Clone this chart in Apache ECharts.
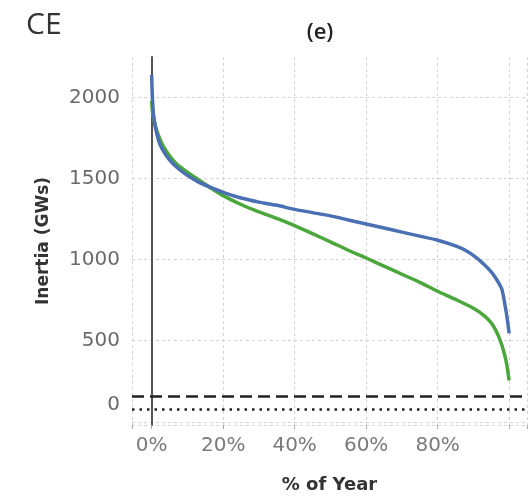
<!DOCTYPE html>
<html>
<head>
<meta charset="utf-8">
<script src="https://cdn.jsdelivr.net/npm/echarts@6/dist/echarts.min.js"></script>
<style>
html,body{margin:0;padding:0;background:#fff;}
#chart{width:530px;height:499px;}
</style>
</head>
<body>
<div id="chart"></div>
<script>
// % of year (x) for each curve
const blueX = [0, 0.2, 0.5, 1, 2, 3, 5, 7, 10, 13, 16, 20, 25, 30, 35, 40, 45, 50, 55, 60, 65, 70, 75, 80, 85, 88, 91, 93, 95, 96, 97, 98, 99, 99.5, 100];
const blueY = [2140, 2000, 1900, 1820, 1730, 1680, 1615, 1570, 1520, 1480, 1450, 1415, 1380, 1355, 1335, 1310, 1290, 1270, 1245, 1220, 1195, 1170, 1145, 1120, 1085, 1055, 1010, 970, 925, 895, 860, 815, 700, 630, 545];
const greenX = [0, 0.3, 1, 2, 3, 5, 7, 10, 13, 16, 20, 25, 30, 35, 40, 45, 50, 55, 60, 65, 70, 75, 80, 85, 90, 93, 95, 96, 97, 98, 99, 99.5, 100];
const greenY = [1980, 1900, 1830, 1760, 1710, 1640, 1590, 1540, 1495, 1450, 1395, 1340, 1295, 1255, 1210, 1160, 1110, 1058, 1010, 960, 910, 860, 805, 755, 700, 655, 610, 575, 530, 470, 390, 330, 255];
const dashedLevel = [160];
const dottedLevel = [80];
const yTickLabels = [0, 500, 1000, 1500, 2000];
const xTickLabels = [0, 20, 40, 60, 80];

const pair = (xs, ys) => xs.map((x, i) => [x, ys[i]]);
const chart = echarts.init(document.getElementById('chart'));
const font = "'Open Sans', 'Noto Sans', sans-serif";
const dv = "'DejaVu Sans', sans-serif";
const grid = '#d4d4d4';

chart.setOption({
  animation: false,
  title: [
    {text: 'CE', left: 21, top: 5, textStyle: {fontFamily: font, fontSize: 30, fontWeight: 'normal', color: '#333'}},
    {text: '(e)', left: 315, top: 17, textAlign: 'center', textStyle: {fontFamily: font, fontSize: 22, fontWeight: 600, color: '#222'}}
  ],
  grid: {left: 132, right: 0, top: 57, bottom: 74},
  xAxis: {
    type: 'value', min: -5.5, max: 105, splitNumber: 5,
    name: '% of Year', nameLocation: 'middle', nameGap: 51, nameMoveOverlap: false,
    nameTextStyle: {fontFamily: dv, fontSize: 18, fontWeight: 'bold', color: '#333'},
    axisLine: {show: false, onZero: false},
    axisTick: {show: true, length: 4, lineStyle: {color: '#aaa'}},
    axisLabel: {
      fontFamily: dv, fontSize: 20, color: '#7a7a7a', margin: 11,
      formatter: v => xTickLabels.includes(v) ? v + '%' : ''
    },
    splitLine: {show: true, lineStyle: {color: grid, type: [3, 3], width: 1}}
  },
  yAxis: {
    type: 'value', min: -20, max: 2250, splitNumber: 5,
    name: 'Inertia (GWs)', nameLocation: 'middle', nameGap: 80, nameMoveOverlap: false,
    nameTextStyle: {fontFamily: dv, fontSize: 17, fontWeight: 'bold', color: '#333'},
    axisLine: {show: true, onZero: true, lineStyle: {color: '#555', width: 2}},
    axisTick: {show: false},
    axisLabel: {
      fontFamily: dv, fontSize: 20, color: '#6a6a6a', margin: 12,
      formatter: v => v === 0 ? '{z|0}' : (yTickLabels.includes(v) ? String(v) : ''),
      rich: {z: {fontFamily: dv, fontSize: 20, color: '#6a6a6a', padding: [0, 0, 34, 0]}}
    },
    splitLine: {show: true, lineStyle: {color: [grid, grid, grid, grid, grid, grid, 'rgba(0,0,0,0)'], type: [3, 3], width: 1}}
  },
  series: [
    {
      type: 'line', data: pair(greenX, greenY), showSymbol: false, smooth: 0.3,
      lineStyle: {color: '#4ba73c', width: 3.5}, z: 3,
      markLine: {
        silent: true, symbol: 'none', label: {show: false},
        data: [
          ...dashedLevel.map(v => ({yAxis: v, lineStyle: {color: '#222', type: [12, 6], width: 2.5}})),
          ...dottedLevel.map(v => ({yAxis: v, lineStyle: {color: '#222', type: [2.5, 5], width: 2.5}}))
        ]
      }
    },
    {
      type: 'line', data: pair(blueX, blueY), showSymbol: false, smooth: 0.3,
      lineStyle: {color: '#4a70b3', width: 3.5}, z: 4
    }
  ]
});
</script>
</body>
</html>
